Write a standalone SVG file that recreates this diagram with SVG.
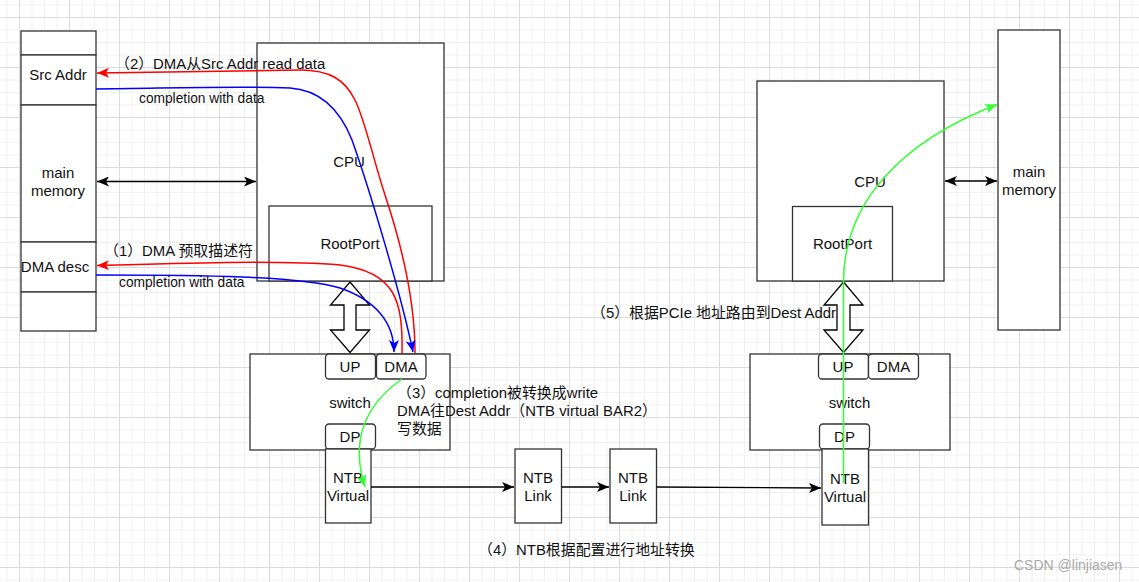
<svg xmlns="http://www.w3.org/2000/svg" width="1139" height="582" viewBox="0 0 1139 582">
<style>
.box{fill:#fff;stroke:#333;stroke-width:1.3}
.rbox{fill:#fff;stroke:#333;stroke-width:1.3}
.t{font-family:"Liberation Sans","Noto Sans CJK SC",sans-serif;font-size:15px;fill:#111;text-anchor:middle}
.lbl{font-family:"Liberation Sans","Noto Sans CJK SC",sans-serif;font-size:14.9px;fill:#111}
.small{font-family:"Liberation Sans","Noto Sans CJK SC",sans-serif;font-size:13.75px;fill:#111}
.blk{fill:none;stroke:#000;stroke-width:1.3}
.red{fill:none;stroke:#f00;stroke-width:1.5}
.blue{fill:none;stroke:#00f;stroke-width:1.5}
.green{fill:none;stroke:#33ff33;stroke-width:1.5}
.hollow{fill:#fff;stroke:#000;stroke-width:1.3}
</style>
<defs>
<pattern id="grid" x="19" y="17" width="50" height="50" patternUnits="userSpaceOnUse">
<path d="M13,0V50M25.5,0V50M38,0V50M0,13H50M0,25.5H50M0,38H50" stroke="#f1f1f1" stroke-width="1" fill="none"/>
<path d="M0.5,0V50M0,0.5H50" stroke="#dcdcdc" stroke-width="1" fill="none"/>
</pattern>
<marker id="aBlack" viewBox="0 0 12 10" refX="12" refY="5" markerWidth="12" markerHeight="10" markerUnits="userSpaceOnUse" orient="auto-start-reverse"><path d="M0,0 L12,5 L0,10 L3,5 z" fill="#000"/></marker>
<marker id="aRed" viewBox="0 0 12 10" refX="12" refY="5" markerWidth="12" markerHeight="10" markerUnits="userSpaceOnUse" orient="auto"><path d="M0,0 L12,5 L0,10 L3,5 z" fill="#f00"/></marker>
<marker id="aBlue" viewBox="0 0 12 10" refX="12" refY="5" markerWidth="12" markerHeight="10" markerUnits="userSpaceOnUse" orient="auto"><path d="M0,0 L12,5 L0,10 L3,5 z" fill="#00f"/></marker>
<marker id="aGreen" viewBox="0 0 12 10" refX="12" refY="5" markerWidth="12" markerHeight="10" markerUnits="userSpaceOnUse" orient="auto"><path d="M0,0 L12,5 L0,10 L3,5 z" fill="#33ff33"/></marker>
</defs>
<rect width="1139" height="582" fill="#fff"/>
<rect width="1139" height="582" fill="url(#grid)"/>

<g id="left-memory">
<rect class="box" x="21" y="31" width="75" height="24"/>
<rect class="box" x="21" y="55" width="75" height="50"/>
<text class="t" x="58" y="80">Src Addr</text>
<rect class="box" x="21" y="105" width="75" height="137"/>
<text class="t" x="58" y="178">main</text>
<text class="t" x="58" y="196">memory</text>
<rect class="box" x="21" y="242" width="75" height="50"/>
<text class="t" x="55" y="272">DMA desc</text>
<rect class="box" x="21" y="292" width="75" height="39"/>
</g>

<g id="left-cpu">
<rect class="box" x="257" y="43" width="187" height="238"/>
<text class="t" x="349" y="167">CPU</text>
</g>
<g id="left-rootport">
<rect class="box" x="269" y="206" width="163" height="75"/>
<text class="t" x="350" y="249">RootPort</text>
</g>
<g id="left-link">
<polygon class="hollow" points="350,282 369.5,305 356,305 356,330 369.5,330 350,352.5 330.5,330 344,330 344,305 330.5,305"/>
</g>
<g id="left-switch">
<rect class="box" x="250" y="354" width="200" height="96"/>
<text class="t" x="350" y="408">switch</text>
</g>
<g id="left-up">
<rect class="rbox" x="325.5" y="354" width="50" height="25" rx="3.5"/>
<text class="t" x="350" y="372">UP</text>
</g>
<g id="left-dma">
<rect class="rbox" x="376.5" y="354" width="49.5" height="25" rx="3.5"/>
<text class="t" x="401" y="372">DMA</text>
</g>
<g id="left-dp">
<rect class="rbox" x="325.5" y="424" width="50" height="25" rx="3.5"/>
<text class="t" x="350" y="442">DP</text>
</g>
<g id="left-ntb-virtual">
<rect class="box" x="325.5" y="449" width="45.5" height="74"/>
<text class="t" x="348" y="482.5">NTB</text>
<text class="t" x="348" y="501">Virtual</text>
</g>
<g id="ntb-link-1">
<rect class="box" x="515" y="449" width="46.5" height="74"/>
<text class="t" x="538" y="482.5">NTB</text>
<text class="t" x="538" y="501">Link</text>
</g>
<g id="ntb-link-2">
<rect class="box" x="610" y="449" width="46.5" height="74"/>
<text class="t" x="633" y="482.5">NTB</text>
<text class="t" x="633" y="501">Link</text>
</g>

<g id="right-cpu">
<rect class="box" x="757" y="81" width="187" height="200"/>
<text class="t" x="870" y="187">CPU</text>
</g>
<g id="right-rootport">
<rect class="box" x="792.5" y="206.5" width="100" height="74.5"/>
<text class="t" x="842.5" y="249">RootPort</text>
</g>
<g id="right-memory">
<rect class="box" x="998" y="30" width="62" height="300"/>
<text class="t" x="1029" y="177">main</text>
<text class="t" x="1029" y="195">memory</text>
</g>
<g id="right-link">
<polygon class="hollow" points="843.5,282 863,305 850,305 850,330 863,330 843.5,352.5 824,330 837,330 837,305 824,305"/>
</g>
<g id="right-switch">
<rect class="box" x="750" y="354" width="200" height="96"/>
<text class="t" x="849.5" y="408">switch</text>
</g>
<g id="right-up">
<rect class="rbox" x="818.5" y="354" width="50" height="25" rx="3.5"/>
<text class="t" x="843" y="372">UP</text>
</g>
<g id="right-dma">
<rect class="rbox" x="868.5" y="354" width="50" height="25" rx="3.5"/>
<text class="t" x="893.5" y="372">DMA</text>
</g>
<g id="right-dp">
<rect class="rbox" x="819.5" y="424" width="50" height="25" rx="3.5"/>
<text class="t" x="844.5" y="442">DP</text>
</g>
<g id="right-ntb-virtual">
<rect class="box" x="822" y="449" width="46.5" height="76"/>
<text class="t" x="845" y="483.5">NTB</text>
<text class="t" x="845" y="502">Virtual</text>
</g>

<g id="connectors">
<path class="blk" d="M97,181.5 H256" marker-start="url(#aBlack)" marker-end="url(#aBlack)"/>
<path class="blk" d="M945,181 H997" marker-start="url(#aBlack)" marker-end="url(#aBlack)"/>
<path class="blk" d="M371,487 H514" marker-end="url(#aBlack)"/>
<path class="blk" d="M561.5,487 H609" marker-end="url(#aBlack)"/>
<path class="blk" d="M656.5,487 L821,488" marker-end="url(#aBlack)"/>
<path class="red" d="M415,353 C415,300 400,240 385,195 C372,155 365,120 355,100 C345,80 330,70 300,70 L97,73" marker-end="url(#aRed)"/>
<path class="blue" d="M96,89 C180,88 240,86 290,88 C320,90 340,110 352,140 C368,185 400,290 413,352" marker-end="url(#aBlue)"/>
<path class="red" d="M402,353 C403,300 395,272 340,265 C280,260 180,263 97,265.5" marker-end="url(#aRed)"/>
<path class="blue" d="M96,275 C200,275 300,276 340,288 C375,300 394,322 394,352" marker-end="url(#aBlue)"/>
<path class="green" d="M402,379 C365,405 350,440 365,487" marker-end="url(#aGreen)"/>
<path class="green" d="M843.5,483 L843.5,282 C843.5,200 905,140 997,104.5" marker-end="url(#aGreen)"/>
</g>

<g id="labels">
<text class="lbl" x="115" y="68.5">（2）DMA从Src Addr read data</text>
<text class="small" x="139" y="103">completion with data</text>
<text class="lbl" x="104" y="255.5">（1）DMA 预取描述符</text>
<text class="small" x="119" y="287">completion with data</text>
<text class="lbl" x="397" y="398">（3）completion被转换成write</text>
<text class="lbl" x="397" y="416">DMA往Dest Addr（NTB virtual BAR2）</text>
<text class="lbl" x="397" y="433.5">写数据</text>
<text class="lbl" x="591" y="318">（5）根据PCIe 地址路由到Dest Addr</text>
<text class="lbl" x="478" y="555">（4）NTB根据配置进行地址转换</text>
<text x="1014" y="570" style="font-family:'Liberation Sans','Noto Sans CJK SC',sans-serif;font-size:14px;fill:#a8a8a8">CSDN @linjiasen</text>
</g>
</svg>
